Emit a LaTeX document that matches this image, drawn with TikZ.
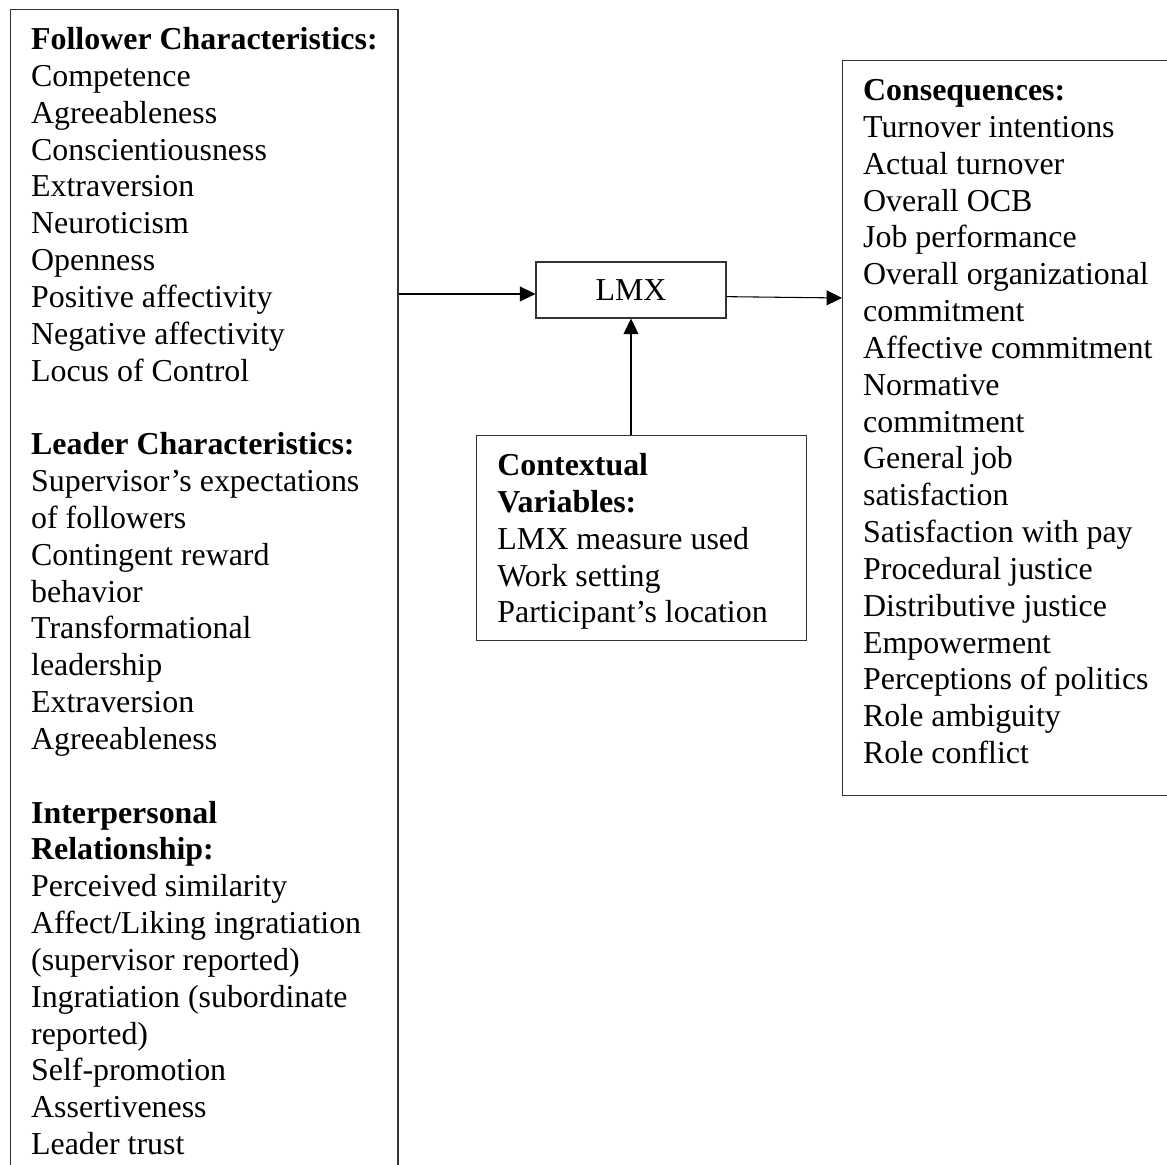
\documentclass[tikz,border=0pt]{standalone}
\usepackage{fontspec}
\setmainfont{Liberation Serif}
\usetikzlibrary{arrows.meta, positioning}

\newcommand{\firstln}{\rule{0pt}{15pt}}
\newcommand{\lastln}[1]{\rule[-#1]{0pt}{0pt}}

\begin{document}
\begin{tikzpicture}[
    x=0.376pt, y=-0.376pt,
    every node/.style={font=\fontsize{12}{13.85}\selectfont},
    box/.style={draw=black!80, line width=0.5pt, inner xsep=7.5pt, inner ysep=0pt, align=flush left, anchor=north west},
    arr/.style={-{Triangle[length=5.8pt,width=5.6pt]}, line width=0.4pt}
]
\useasboundingbox (0,0) rectangle (1167,1164);
\clip (0,0) rectangle (1167,1164);

% Left box (antecedents)
\node[box, inner xsep=7.7pt] (follow) at (10,9) {\firstln\textbf{Follower Characteristics:}\\
    Competence\\ Agreeableness\\ Conscientiousness\\ Extraversion\\ Neuroticism\\
    Openness\\ Positive affectivity\\ Negative affectivity\\ Locus of Control\\[13.85pt]
    \textbf{Leader Characteristics:}\\
    Supervisor’s expectations\\ of followers\\ Contingent reward\\ behavior\\
    Transformational\\ leadership\\ Extraversion\\ Agreeableness\\[13.85pt]
    \textbf{Interpersonal}\\ \textbf{Relationship:}\\
    Perceived similarity\\ Affect/Liking ingratiation\\ (supervisor reported)\\
    Ingratiation (subordinate\\ reported)\\ Self-promotion\\ Assertiveness\\
    Leader trust\lastln{10pt}};

% Middle
\node[draw=black!80, line width=0.5pt, minimum width=71.4pt, minimum height=21pt, inner sep=0pt] (lmx) at (631,290) {LMX};
\node[box, text width=108.5pt, inner xsep=7.8pt] (ctx) at (476,435) {\firstln\textbf{Contextual}\\
    \textbf{Variables:}\\ LMX measure used\\ Work setting\\ Participant’s location\lastln{6.5pt}};

% Right box (outcomes)
\node[box, text width=120pt, inner xsep=7.7pt] (cons) at (842,60) {\firstln\textbf{Consequences:}\\
    Turnover intentions\\ Actual turnover\\ Overall OCB\\ Job performance\\
    Overall organizational\\ commitment\\ Affective commitment\\ Normative\\
    commitment\\ General job\\ satisfaction\\ Satisfaction with pay\\
    Procedural justice\\ Distributive justice\\ Empowerment\\
    Perceptions of politics\\ Role ambiguity\\ Role conflict\lastln{12pt}};

% Connections
\draw[arr] ([yshift=-1.5pt]lmx.west -| follow.east) -- ([yshift=-1.5pt]lmx.west);
\draw[arr] ([yshift=-2.5pt]lmx.east) -- ([yshift=-3pt]lmx.east -| cons.west);
\draw[arr] (lmx.south |- ctx.north) -- (lmx.south);

\end{tikzpicture}
\end{document}
